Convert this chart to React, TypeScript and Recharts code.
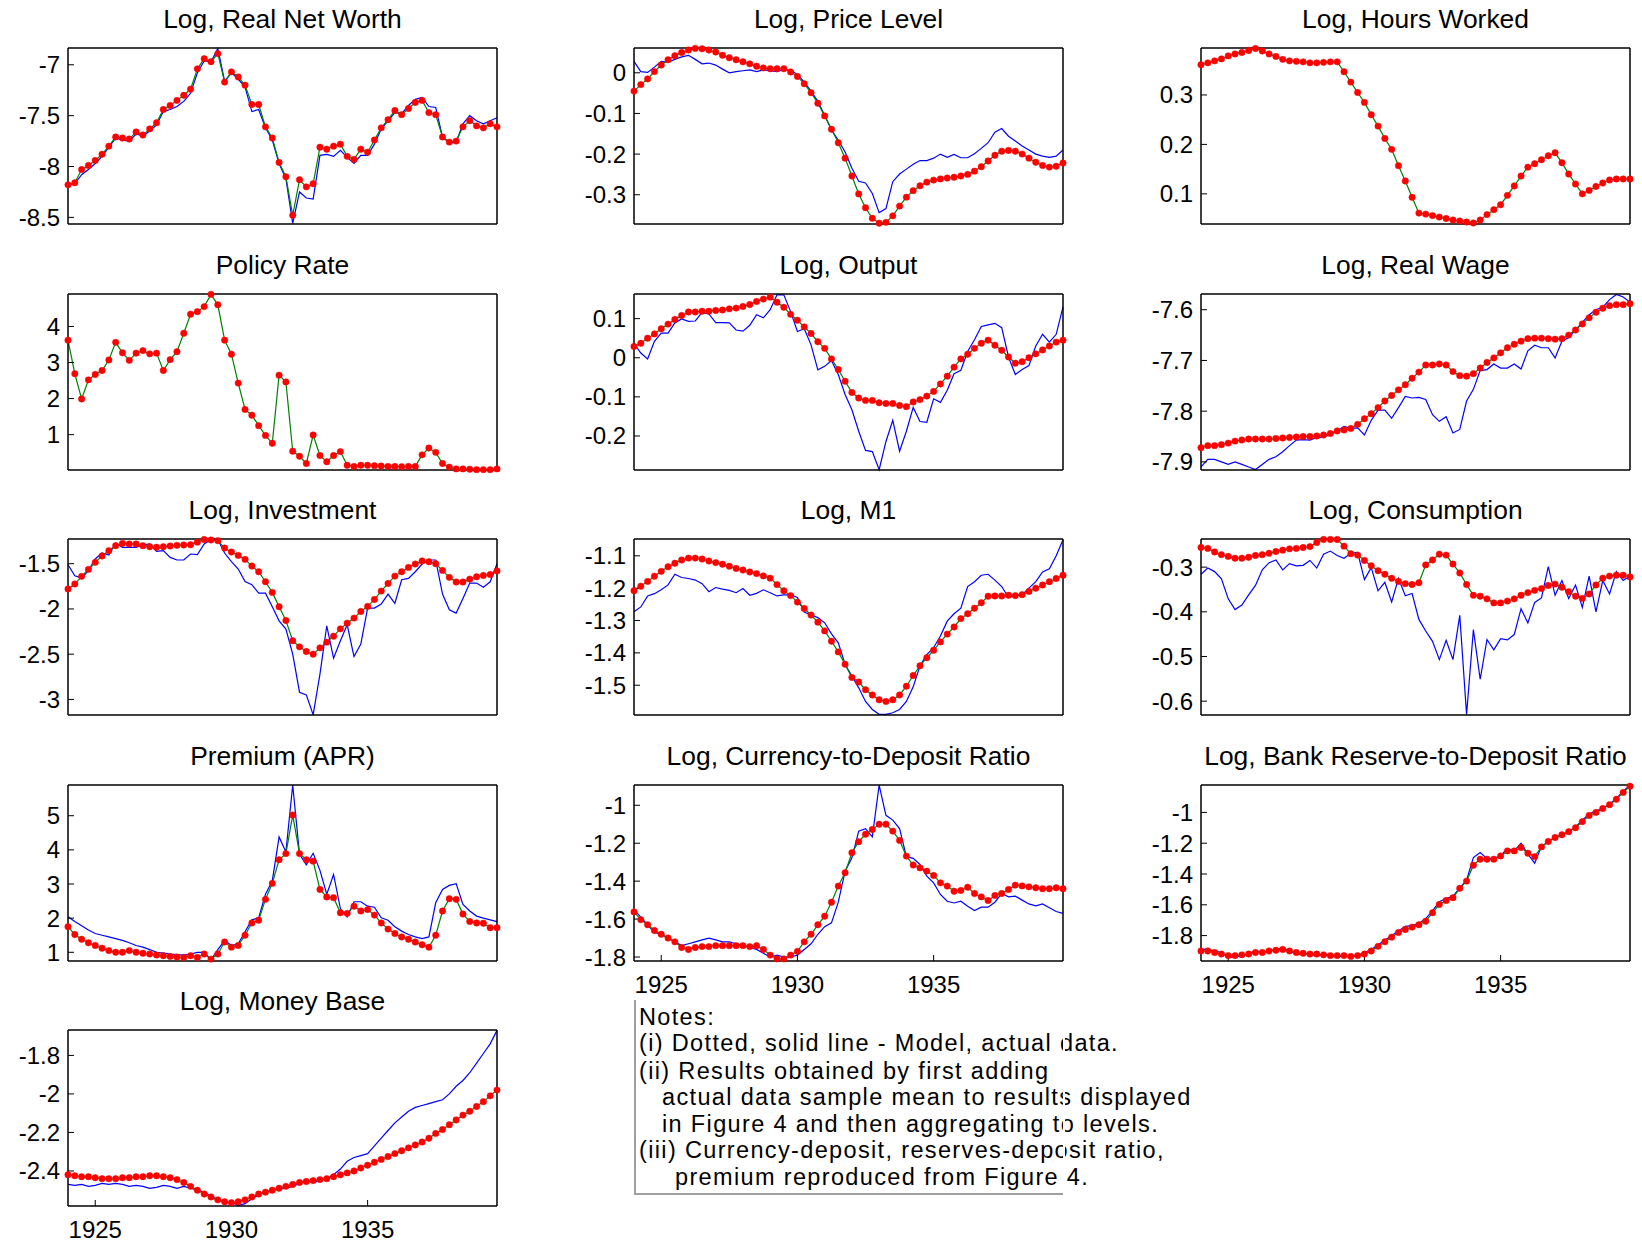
import { LineChart, Line, XAxis, YAxis } from "recharts";

// quarterly sample 1924Q1 - 1939Q4
const years = [1924, 1925, 1926, 1927, 1928, 1929, 1930, 1931, 1932, 1933, 1934, 1935, 1936, 1937, 1938, 1939];
const quarterOffsets = [0, 0.25, 0.5, 0.75];
const dates = years.flatMap((y) => quarterOffsets.map((q) => y + q));
const yearTicks = [1925, 1930, 1935];

const netWorthModel = [
  -8.18, -8.16, -8.03, -7.99, -7.94, -7.88, -7.80, -7.71,
  -7.72, -7.73, -7.66, -7.69, -7.63, -7.57, -7.44, -7.40,
  -7.35, -7.30, -7.24, -7.04, -6.94, -6.97, -6.89, -7.17,
  -7.07, -7.12, -7.20, -7.39, -7.39, -7.61, -7.72, -7.96,
  -8.10, -8.48, -8.13, -8.20, -8.17, -7.81, -7.83, -7.80,
  -7.78, -7.90, -7.93, -7.83, -7.86, -7.74, -7.62, -7.54,
  -7.45, -7.49, -7.43, -7.37, -7.35, -7.47, -7.49, -7.71,
  -7.76, -7.75, -7.61, -7.55, -7.60, -7.62, -7.58, -7.61,
];
const netWorthActual = [
  -8.18, -8.17, -8.08, -8.03, -7.97, -7.90, -7.81, -7.72,
  -7.74, -7.75, -7.68, -7.70, -7.65, -7.59, -7.46, -7.44,
  -7.41, -7.36, -7.28, -7.08, -6.96, -6.97, -6.84, -7.16,
  -7.08, -7.14, -7.22, -7.46, -7.44, -7.62, -7.74, -7.97,
  -8.12, -8.56, -8.25, -8.31, -8.32, -7.89, -7.88, -7.90,
  -7.84, -7.91, -7.97, -7.89, -7.89, -7.78, -7.63, -7.55,
  -7.47, -7.48, -7.40, -7.34, -7.32, -7.41, -7.42, -7.71,
  -7.77, -7.76, -7.58, -7.50, -7.55, -7.58, -7.55, -7.52,
];

const priceModel = [
  -0.045, -0.029, -0.015, 0.003, 0.019, 0.032, 0.042, 0.050,
  0.056, 0.060, 0.059, 0.056, 0.051, 0.043, 0.037, 0.032,
  0.027, 0.022, 0.016, 0.012, 0.010, 0.010, 0.010, 0.002,
  -0.009, -0.027, -0.049, -0.075, -0.106, -0.139, -0.172, -0.210,
  -0.254, -0.298, -0.332, -0.358, -0.370, -0.368, -0.352, -0.328,
  -0.306, -0.290, -0.278, -0.269, -0.264, -0.261, -0.259, -0.257,
  -0.254, -0.250, -0.242, -0.231, -0.217, -0.203, -0.193, -0.191,
  -0.193, -0.200, -0.210, -0.220, -0.228, -0.232, -0.230, -0.222,
];
const priceActual = [
  0.028, 0.003, 0.001, 0.014, 0.028, 0.026, 0.033, 0.039,
  0.043, 0.033, 0.022, 0.024, 0.019, 0.009, 0.000, 0.003,
  0.005, 0.007, 0.003, 0.007, 0.005, 0.003, 0.008, 0.006,
  -0.004, -0.023, -0.045, -0.070, -0.105, -0.140, -0.166, -0.195,
  -0.235, -0.267, -0.271, -0.297, -0.344, -0.334, -0.268, -0.249,
  -0.237, -0.225, -0.216, -0.216, -0.210, -0.200, -0.208, -0.201,
  -0.209, -0.209, -0.199, -0.186, -0.172, -0.146, -0.137, -0.156,
  -0.168, -0.180, -0.190, -0.200, -0.205, -0.208, -0.205, -0.190,
];

const hoursModel = [
  0.361, 0.365, 0.369, 0.373, 0.379, 0.383, 0.386, 0.390,
  0.394, 0.389, 0.383, 0.378, 0.372, 0.369, 0.368, 0.367,
  0.365, 0.365, 0.366, 0.367, 0.367, 0.347, 0.326, 0.305,
  0.285, 0.260, 0.237, 0.212, 0.190, 0.157, 0.126, 0.093,
  0.061, 0.059, 0.056, 0.053, 0.050, 0.047, 0.045, 0.043,
  0.041, 0.047, 0.058, 0.068, 0.078, 0.097, 0.116, 0.136,
  0.154, 0.161, 0.169, 0.177, 0.183, 0.163, 0.140, 0.120,
  0.100, 0.107, 0.115, 0.122, 0.128, 0.130, 0.130, 0.130,
];

const policyModel = [
  3.62, 2.69, 1.99, 2.52, 2.67, 2.78, 3.07, 3.56,
  3.27, 3.06, 3.26, 3.33, 3.24, 3.26, 2.78, 3.08,
  3.30, 3.81, 4.34, 4.41, 4.55, 4.89, 4.60, 3.62,
  3.23, 2.43, 1.70, 1.54, 1.25, 0.98, 0.76, 2.65,
  2.46, 0.54, 0.40, 0.20, 0.99, 0.42, 0.25, 0.42,
  0.53, 0.15, 0.12, 0.15, 0.15, 0.14, 0.13, 0.12,
  0.12, 0.11, 0.12, 0.12, 0.44, 0.63, 0.51, 0.20,
  0.10, 0.05, 0.05, 0.04, 0.03, 0.03, 0.03, 0.05,
];

const outputModel = [
  0.029, 0.037, 0.050, 0.061, 0.074, 0.086, 0.098, 0.108,
  0.117, 0.117, 0.119, 0.119, 0.121, 0.122, 0.125, 0.127,
  0.131, 0.136, 0.144, 0.150, 0.155, 0.142, 0.129, 0.111,
  0.096, 0.079, 0.062, 0.041, 0.024, -0.003, -0.030, -0.060,
  -0.089, -0.103, -0.109, -0.109, -0.115, -0.117, -0.117, -0.122,
  -0.125, -0.113, -0.107, -0.098, -0.086, -0.067, -0.047, -0.024,
  -0.003, 0.009, 0.024, 0.037, 0.045, 0.032, 0.019, 0.002,
  -0.014, -0.010, 0.000, 0.010, 0.020, 0.030, 0.040, 0.045,
];
const outputActual = [
  0.037, 0.012, -0.003, 0.042, 0.063, 0.063, 0.089, 0.099,
  0.093, 0.094, 0.116, 0.112, 0.090, 0.090, 0.089, 0.071,
  0.068, 0.083, 0.110, 0.102, 0.123, 0.161, 0.161, 0.118,
  0.067, 0.074, 0.033, -0.031, -0.022, -0.007, -0.043, -0.094,
  -0.133, -0.188, -0.237, -0.240, -0.286, -0.214, -0.160, -0.239,
  -0.188, -0.127, -0.163, -0.165, -0.105, -0.114, -0.083, -0.041,
  -0.032, 0.016, 0.046, 0.080, 0.084, 0.088, 0.077, 0.002,
  -0.043, -0.030, -0.020, 0.030, 0.060, 0.040, 0.060, 0.130,
];

const wageModel = [
  -7.872, -7.868, -7.868, -7.866, -7.863, -7.859, -7.857, -7.855,
  -7.855, -7.855, -7.855, -7.854, -7.853, -7.852, -7.851, -7.850,
  -7.850, -7.849, -7.847, -7.844, -7.839, -7.837, -7.834, -7.826,
  -7.815, -7.805, -7.793, -7.780, -7.769, -7.758, -7.748, -7.735,
  -7.723, -7.709, -7.709, -7.707, -7.709, -7.722, -7.730, -7.731,
  -7.726, -7.715, -7.704, -7.695, -7.685, -7.675, -7.668, -7.662,
  -7.657, -7.656, -7.656, -7.657, -7.658, -7.657, -7.650, -7.640,
  -7.628, -7.616, -7.605, -7.597, -7.592, -7.590, -7.590, -7.588,
];
const wageActual = [
  -7.910, -7.895, -7.895, -7.900, -7.905, -7.900, -7.905, -7.910,
  -7.915, -7.905, -7.895, -7.890, -7.880, -7.868, -7.857, -7.856,
  -7.857, -7.852, -7.851, -7.846, -7.839, -7.830, -7.834, -7.833,
  -7.847, -7.818, -7.798, -7.798, -7.814, -7.793, -7.771, -7.774,
  -7.773, -7.777, -7.807, -7.820, -7.811, -7.843, -7.836, -7.780,
  -7.757, -7.720, -7.718, -7.707, -7.715, -7.715, -7.707, -7.717,
  -7.681, -7.670, -7.675, -7.675, -7.695, -7.662, -7.655, -7.640,
  -7.625, -7.610, -7.600, -7.595, -7.580, -7.570, -7.575, -7.585,
];

const investModel = [
  -1.780, -1.725, -1.640, -1.563, -1.485, -1.415, -1.356, -1.301,
  -1.275, -1.282, -1.282, -1.301, -1.312, -1.319, -1.312, -1.304,
  -1.297, -1.293, -1.290, -1.262, -1.232, -1.238, -1.245, -1.327,
  -1.371, -1.408, -1.452, -1.526, -1.589, -1.699, -1.817, -1.976,
  -2.127, -2.352, -2.419, -2.470, -2.500, -2.430, -2.367, -2.301,
  -2.220, -2.157, -2.101, -2.028, -1.972, -1.895, -1.803, -1.718,
  -1.637, -1.589, -1.541, -1.504, -1.470, -1.478, -1.500, -1.574,
  -1.651, -1.703, -1.703, -1.670, -1.644, -1.630, -1.620, -1.580,
];
const investActual = [
  -1.511, -1.633, -1.659, -1.577, -1.448, -1.382, -1.404, -1.271,
  -1.319, -1.319, -1.319, -1.293, -1.282, -1.363, -1.356, -1.430,
  -1.459, -1.459, -1.393, -1.400, -1.282, -1.232, -1.232, -1.382,
  -1.478, -1.559, -1.696, -1.732, -1.825, -1.825, -1.976, -2.131,
  -2.223, -2.500, -2.920, -2.950, -3.170, -2.720, -2.186, -2.544,
  -2.352, -2.175, -2.526, -2.389, -1.991, -1.991, -1.946, -1.836,
  -1.939, -1.677, -1.662, -1.589, -1.504, -1.459, -1.459, -1.836,
  -2.009, -2.046, -1.884, -1.714, -1.714, -1.760, -1.700, -1.500,
];

const m1Model = [
  -1.208, -1.194, -1.179, -1.163, -1.148, -1.134, -1.123, -1.113,
  -1.107, -1.107, -1.110, -1.116, -1.121, -1.126, -1.132, -1.139,
  -1.144, -1.150, -1.155, -1.162, -1.169, -1.189, -1.208, -1.223,
  -1.243, -1.263, -1.283, -1.305, -1.332, -1.364, -1.397, -1.435,
  -1.476, -1.490, -1.514, -1.530, -1.545, -1.550, -1.545, -1.530,
  -1.503, -1.470, -1.440, -1.415, -1.392, -1.366, -1.342, -1.320,
  -1.294, -1.279, -1.262, -1.245, -1.225, -1.224, -1.224, -1.222,
  -1.223, -1.220, -1.210, -1.200, -1.190, -1.180, -1.170, -1.160,
];
const m1Actual = [
  -1.273, -1.258, -1.224, -1.217, -1.205, -1.190, -1.157, -1.167,
  -1.170, -1.175, -1.186, -1.211, -1.198, -1.203, -1.207, -1.214,
  -1.201, -1.222, -1.216, -1.205, -1.214, -1.224, -1.221, -1.221,
  -1.229, -1.274, -1.283, -1.291, -1.307, -1.341, -1.369, -1.436,
  -1.472, -1.508, -1.550, -1.575, -1.590, -1.590, -1.585, -1.575,
  -1.550, -1.505, -1.440, -1.405, -1.384, -1.348, -1.302, -1.279,
  -1.262, -1.195, -1.180, -1.160, -1.157, -1.175, -1.195, -1.229,
  -1.222, -1.220, -1.200, -1.180, -1.150, -1.140, -1.100, -1.050,
];

const consModel = [
  -0.256, -0.258, -0.266, -0.272, -0.276, -0.280, -0.280, -0.278,
  -0.274, -0.272, -0.269, -0.265, -0.262, -0.259, -0.258, -0.256,
  -0.254, -0.245, -0.238, -0.238, -0.238, -0.253, -0.270, -0.273,
  -0.285, -0.297, -0.308, -0.316, -0.325, -0.332, -0.337, -0.339,
  -0.335, -0.295, -0.284, -0.271, -0.273, -0.293, -0.313, -0.339,
  -0.363, -0.365, -0.371, -0.380, -0.380, -0.376, -0.371, -0.363,
  -0.357, -0.352, -0.348, -0.341, -0.338, -0.345, -0.355, -0.365,
  -0.370, -0.360, -0.340, -0.325, -0.320, -0.318, -0.318, -0.322,
];
const consActual = [
  -0.316, -0.302, -0.310, -0.326, -0.371, -0.395, -0.385, -0.362,
  -0.341, -0.306, -0.290, -0.284, -0.306, -0.292, -0.297, -0.296,
  -0.285, -0.302, -0.271, -0.264, -0.274, -0.280, -0.269, -0.267,
  -0.328, -0.301, -0.353, -0.334, -0.378, -0.325, -0.364, -0.359,
  -0.417, -0.443, -0.466, -0.507, -0.464, -0.507, -0.408, -0.630,
  -0.440, -0.551, -0.462, -0.485, -0.460, -0.463, -0.451, -0.393,
  -0.425, -0.379, -0.369, -0.299, -0.363, -0.330, -0.370, -0.340,
  -0.390, -0.320, -0.400, -0.330, -0.360, -0.310, -0.330, -0.320,
];

const premiumModel = [
  1.75, 1.52, 1.38, 1.28, 1.20, 1.12, 1.05, 1.00,
  1.00, 1.05, 1.00, 0.97, 0.95, 0.92, 0.90, 0.88,
  0.86, 0.85, 0.90, 0.85, 0.95, 0.80, 0.95, 1.30,
  1.15, 1.20, 1.50, 1.86, 1.94, 2.55, 3.02, 3.71,
  3.89, 5.02, 3.89, 3.71, 3.67, 2.84, 2.62, 2.60,
  2.16, 2.14, 2.35, 2.21, 2.25, 2.09, 1.86, 1.68,
  1.55, 1.45, 1.38, 1.30, 1.22, 1.15, 1.50, 2.21,
  2.57, 2.55, 2.12, 1.90, 1.86, 1.85, 1.72, 1.72,
];
const premiumActual = [
  2.04, 1.90, 1.78, 1.65, 1.55, 1.50, 1.45, 1.40,
  1.35, 1.28, 1.20, 1.15, 1.08, 1.00, 0.98, 0.95,
  0.93, 0.92, 0.95, 1.00, 1.00, 0.78, 1.08, 1.35,
  1.20, 1.25, 1.60, 1.95, 2.01, 2.70, 3.09, 4.38,
  3.94, 5.90, 3.87, 3.56, 3.90, 3.40, 2.70, 3.28,
  2.28, 2.04, 2.48, 2.48, 2.35, 2.32, 2.01, 1.94,
  1.75, 1.62, 1.52, 1.45, 1.40, 1.45, 2.45, 2.84,
  2.96, 3.01, 2.40, 2.21, 2.06, 2.00, 1.95, 1.90,
];

const currencyModel = [
  -1.562, -1.603, -1.630, -1.660, -1.680, -1.700, -1.720, -1.750,
  -1.760, -1.750, -1.745, -1.745, -1.740, -1.740, -1.740, -1.740,
  -1.740, -1.745, -1.740, -1.760, -1.790, -1.810, -1.810, -1.790,
  -1.770, -1.720, -1.680, -1.630, -1.585, -1.511, -1.426, -1.356,
  -1.250, -1.192, -1.153, -1.127, -1.100, -1.100, -1.136, -1.185,
  -1.268, -1.315, -1.330, -1.347, -1.370, -1.409, -1.426, -1.453,
  -1.449, -1.432, -1.465, -1.483, -1.502, -1.476, -1.465, -1.444,
  -1.421, -1.425, -1.430, -1.435, -1.440, -1.440, -1.435, -1.440,
];
const currencyActual = [
  -1.550, -1.590, -1.630, -1.670, -1.680, -1.700, -1.720, -1.740,
  -1.730, -1.720, -1.710, -1.700, -1.710, -1.720, -1.720, -1.730,
  -1.740, -1.750, -1.760, -1.780, -1.800, -1.790, -1.800, -1.800,
  -1.790, -1.760, -1.730, -1.680, -1.640, -1.620, -1.511, -1.347,
  -1.277, -1.136, -1.123, -1.166, -0.894, -1.053, -1.078, -1.123,
  -1.271, -1.280, -1.312, -1.374, -1.409, -1.470, -1.506, -1.515,
  -1.506, -1.532, -1.555, -1.537, -1.537, -1.511, -1.465, -1.483,
  -1.479, -1.500, -1.520, -1.530, -1.520, -1.540, -1.560, -1.570,
];

const reserveModel = [
  -1.900, -1.900, -1.910, -1.920, -1.930, -1.930, -1.925, -1.920,
  -1.910, -1.910, -1.900, -1.895, -1.890, -1.900, -1.910, -1.915,
  -1.920, -1.920, -1.925, -1.930, -1.930, -1.930, -1.935, -1.930,
  -1.920, -1.900, -1.870, -1.840, -1.810, -1.780, -1.760, -1.745,
  -1.730, -1.707, -1.652, -1.598, -1.572, -1.554, -1.493, -1.446,
  -1.343, -1.304, -1.304, -1.304, -1.283, -1.250, -1.250, -1.228,
  -1.265, -1.287, -1.224, -1.189, -1.163, -1.145, -1.125, -1.100,
  -1.060, -1.020, -1.000, -0.975, -0.950, -0.915, -0.870, -0.830,
];
const reserveActual = [
  -1.890, -1.890, -1.900, -1.910, -1.940, -1.940, -1.930, -1.920,
  -1.900, -1.910, -1.900, -1.890, -1.880, -1.900, -1.920, -1.920,
  -1.920, -1.930, -1.920, -1.930, -1.940, -1.930, -1.940, -1.930,
  -1.910, -1.890, -1.860, -1.830, -1.800, -1.770, -1.740, -1.735,
  -1.720, -1.690, -1.640, -1.580, -1.560, -1.545, -1.490, -1.440,
  -1.293, -1.261, -1.300, -1.300, -1.280, -1.235, -1.250, -1.200,
  -1.270, -1.330, -1.220, -1.190, -1.160, -1.150, -1.125, -1.095,
  -1.050, -1.010, -0.990, -0.975, -0.945, -0.910, -0.860, -0.825,
];

const moneyBaseModel = [
  -2.420, -2.425, -2.430, -2.430, -2.435, -2.440, -2.440, -2.440,
  -2.435, -2.435, -2.430, -2.430, -2.425, -2.425, -2.430, -2.435,
  -2.445, -2.460, -2.480, -2.500, -2.520, -2.535, -2.550, -2.560,
  -2.565, -2.560, -2.550, -2.535, -2.520, -2.510, -2.500, -2.490,
  -2.480, -2.470, -2.460, -2.455, -2.450, -2.445, -2.440, -2.430,
  -2.420, -2.410, -2.400, -2.385, -2.370, -2.355, -2.340, -2.325,
  -2.310, -2.295, -2.280, -2.265, -2.250, -2.230, -2.205, -2.185,
  -2.160, -2.135, -2.110, -2.090, -2.065, -2.040, -2.010, -1.980,
];
const moneyBaseActual = [
  -2.470, -2.475, -2.470, -2.480, -2.475, -2.465, -2.470, -2.465,
  -2.470, -2.480, -2.475, -2.480, -2.490, -2.485, -2.475, -2.480,
  -2.490, -2.480, -2.490, -2.500, -2.510, -2.530, -2.550, -2.565,
  -2.560, -2.580, -2.570, -2.545, -2.525, -2.510, -2.500, -2.495,
  -2.490, -2.480, -2.465, -2.450, -2.460, -2.450, -2.440, -2.420,
  -2.390, -2.350, -2.330, -2.320, -2.310, -2.270, -2.230, -2.190,
  -2.150, -2.120, -2.090, -2.070, -2.060, -2.050, -2.040, -2.030,
  -2.000, -1.960, -1.930, -1.890, -1.840, -1.790, -1.740, -1.670,
];

type PanelDef = {
  title: string;
  model: number[];
  actual?: number[];
  domain: [number, number];
  ticks: number[];
};

const panels: PanelDef[] = [
  { title: "Log, Real Net Worth", model: netWorthModel, actual: netWorthActual, domain: [-8.565, -6.835], ticks: [-8.5, -8, -7.5, -7] },
  { title: "Log, Price Level", model: priceModel, actual: priceActual, domain: [-0.372, 0.061], ticks: [-0.3, -0.2, -0.1, 0] },
  { title: "Log, Hours Worked", model: hoursModel, domain: [0.039, 0.395], ticks: [0.1, 0.2, 0.3] },
  { title: "Policy Rate", model: policyModel, domain: [0.02, 4.9], ticks: [1, 2, 3, 4] },
  { title: "Log, Output", model: outputModel, actual: outputActual, domain: [-0.287, 0.163], ticks: [-0.2, -0.1, 0, 0.1] },
  { title: "Log, Real Wage", model: wageModel, actual: wageActual, domain: [-7.916, -7.569], ticks: [-7.9, -7.8, -7.7, -7.6] },
  { title: "Log, Investment", model: investModel, actual: investActual, domain: [-3.172, -1.227], ticks: [-3, -2.5, -2, -1.5] },
  { title: "Log, M1", model: m1Model, actual: m1Actual, domain: [-1.592, -1.048], ticks: [-1.5, -1.4, -1.3, -1.2, -1.1] },
  { title: "Log, Consumption", model: consModel, actual: consActual, domain: [-0.631, -0.237], ticks: [-0.6, -0.5, -0.4, -0.3] },
  { title: "Premium (APR)", model: premiumModel, actual: premiumActual, domain: [0.745, 5.9], ticks: [1, 2, 3, 4, 5] },
  { title: "Log, Currency-to-Deposit Ratio", model: currencyModel, actual: currencyActual, domain: [-1.821, -0.893], ticks: [-1.8, -1.6, -1.4, -1.2, -1] },
  { title: "Log, Bank Reserve-to-Deposit Ratio", model: reserveModel, actual: reserveActual, domain: [-1.965, -0.822], ticks: [-1.8, -1.6, -1.4, -1.2, -1] },
  { title: "Log, Money Base", model: moneyBaseModel, actual: moneyBaseActual, domain: [-2.582, -1.668], ticks: [-2.4, -2.2, -2, -1.8] },
];

// grid slot of each panel: [column, row, show year labels]
const slots: [number, number, boolean][] = [
  [0, 0, false], [1, 0, false], [2, 0, false],
  [0, 1, false], [1, 1, false], [2, 1, false],
  [0, 2, false], [1, 2, false], [2, 2, false],
  [0, 3, false], [1, 3, true], [2, 3, true],
  [0, 4, true],
];

const notes = [
  { text: "Notes:", indent: 0 },
  { text: "(i) Dotted, solid line - Model, actual data.", indent: 0 },
  { text: "(ii) Results obtained by first adding", indent: 0 },
  { text: "actual data sample mean to results displayed", indent: 23 },
  { text: "in Figure 4 and then aggregating to levels.", indent: 23 },
  { text: "(iii) Currency-deposit, reserves-deposit ratio,", indent: 0 },
  { text: "premium reproduced from Figure 4.", indent: 36 },
];
const noteY = [1016.5, 1043, 1070.5, 1097, 1123.5, 1150, 1176.5];

const colX = [68, 634, 1201];
const rowY = [48, 293.5, 539, 784.5, 1030];
const PLOT_W = 429;
const PLOT_H = 176;
const AXIS_W = 70;
const PAD = 6;
const XAXIS_H = 46;
const FONT = '"Liberation Sans", Arial, Helvetica, sans-serif';
const axisStyle = {
  stroke: "#000",
  axisLine: { stroke: "#000", strokeWidth: 1.5 },
  tickLine: { stroke: "#000", strokeWidth: 1 },
};

function Panel({ p, col, row, showX }: { p: PanelDef; col: number; row: number; showX: boolean }) {
  const data = dates.map((t, i) => ({
    t,
    model: p.model[i],
    actual: p.actual ? p.actual[i] : null,
  }));
  const left = colX[col];
  const top = rowY[row];
  return (
    <>
      <div
        style={{
          position: "absolute",
          left: left - 60,
          width: PLOT_W + 120,
          top: top - 42,
          textAlign: "center",
          fontSize: 26.4,
          lineHeight: "26px",
          whiteSpace: "nowrap",
        }}
      >
        {p.title}
      </div>
      <div style={{ position: "absolute", left: left - AXIS_W, top: top - PAD }}>
        <LineChart
          width={AXIS_W + PLOT_W + PAD}
          height={PAD + PLOT_H + XAXIS_H}
          data={data}
          margin={{ top: PAD - 1, right: PAD - 1, bottom: 0, left: 0 }}
        >
          <XAxis
            xAxisId="b"
            dataKey="t"
            type="number"
            domain={[1924, 1939.75]}
            ticks={yearTicks}
            interval={0}
            height={XAXIS_H}
            tickSize={-6}
            tickMargin={21}
            tick={showX ? { fill: "#000", fontSize: 24 } : false}
            {...axisStyle}
          />
          <XAxis
            xAxisId="t"
            orientation="top"
            dataKey="t"
            type="number"
            domain={[1924, 1939.75]}
            ticks={yearTicks}
            interval={0}
            height={1}
            tickSize={-6}
            tick={false}
            {...axisStyle}
          />
          <YAxis
            yAxisId="l"
            type="number"
            domain={p.domain}
            ticks={p.ticks}
            interval={0}
            width={AXIS_W}
            tickSize={-6}
            tickMargin={14}
            tick={{ fill: "#000", fontSize: 24 }}
            {...axisStyle}
          />
          <YAxis
            yAxisId="r"
            orientation="right"
            type="number"
            domain={p.domain}
            ticks={p.ticks}
            interval={0}
            width={1}
            tickSize={-6}
            tick={false}
            {...axisStyle}
          />
          {/* carrier for the mirrored top/right axes of the box; draws nothing */}
          <Line
            xAxisId="t"
            yAxisId="r"
            dataKey="model"
            stroke="none"
            dot={false}
            activeDot={false}
            legendType="none"
            isAnimationActive={false}
          />
          {p.actual && (
            <Line
              xAxisId="b"
              yAxisId="l"
              dataKey="actual"
              stroke="#0000ff"
              strokeWidth={1.2}
              dot={false}
              isAnimationActive={false}
            />
          )}
          <Line
            xAxisId="b"
            yAxisId="l"
            dataKey="model"
            stroke="#008000"
            strokeWidth={1.2}
            dot={{ r: 3.2, fill: "#ff0000", stroke: "#ff0000", strokeWidth: 0.5 }}
            isAnimationActive={false}
          />
        </LineChart>
      </div>
    </>
  );
}

export default function App() {
  return (
    <div
      style={{
        position: "absolute",
        left: 0,
        top: 0,
        width: 1642,
        height: 1243,
        background: "#fff",
        color: "#000",
        fontFamily: FONT,
        overflow: "hidden",
      }}
    >
      {panels.map((p, i) => (
        <Panel key={p.title} p={p} col={slots[i][0]} row={slots[i][1]} showX={slots[i][2]} />
      ))}
      {/* notes box */}
      <div style={{ position: "absolute", left: 634, top: 1000, width: 1.5, height: 194, background: "#a0a0a0" }} />
      <div style={{ position: "absolute", left: 634, top: 1193, width: 430, height: 1.5, background: "#a0a0a0" }} />
      {notes.map((n, i) => (
        <div
          key={i}
          style={{
            position: "absolute",
            left: 639 + n.indent,
            top: noteY[i] - 11,
            fontSize: 23.5,
            letterSpacing: "1.35px",
            lineHeight: "22px",
            whiteSpace: "nowrap",
          }}
        >
          {n.text}
        </div>
      ))}
      <div style={{ position: "absolute", left: 1063, top: 1000, width: 1.5, height: 195, background: "#fff" }} />
    </div>
  );
}
